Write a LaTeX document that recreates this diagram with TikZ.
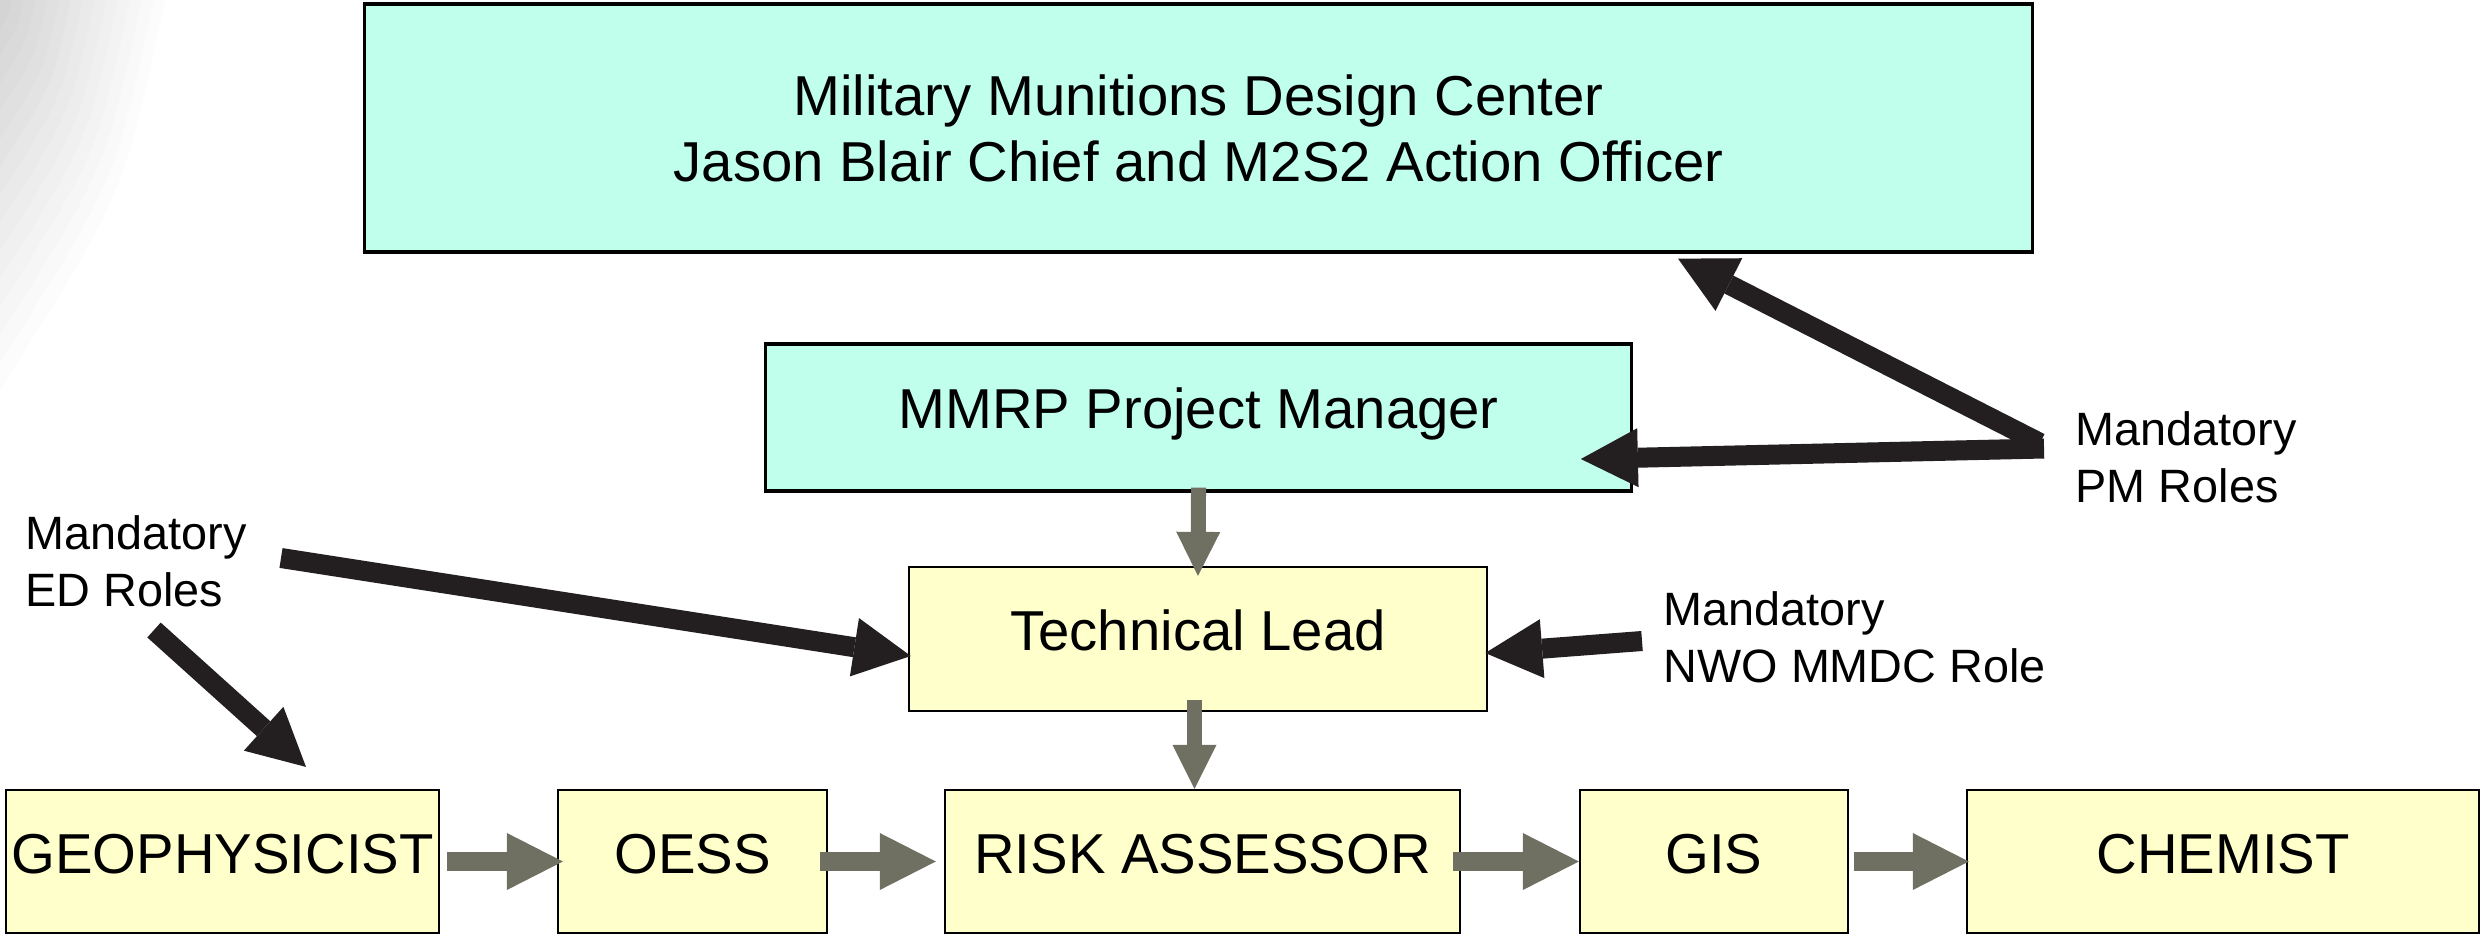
\documentclass[tikz,border=0pt]{standalone}
\usepackage{fontspec}
\setmainfont{Liberation Sans}
\usetikzlibrary{arrows.meta,calc}
\definecolor{boxcyan}{RGB}{192,255,236}
\definecolor{boxyellow}{RGB}{255,255,204}
\definecolor{arrowgray}{RGB}{112,112,98}
\definecolor{arrowblack}{RGB}{35,31,32}
\begin{document}
\begin{tikzpicture}[x=0.01cm,y=-0.01cm,
  cyanbox/.style={draw=black, line width=0.9pt, fill=boxcyan, inner sep=0pt,
    font=\fontsize{16}{18.5}\selectfont, align=center},
  yelbox/.style={draw=black, line width=0.6pt, fill=boxyellow, inner sep=0pt,
    minimum height=1.43cm, font=\fontsize{16}{18.5}\selectfont,
    text height=12pt, text depth=5.46pt},
  rolelbl/.style={inner sep=0pt, anchor=base west, align=left,
    font=\fontsize{13.3}{16.2}\selectfont},
  grayarrow/.style={draw=arrowgray, line width=0.19cm,
    -{Triangle[length=0.56cm,width=0.57cm,line width=0pt]}},
  grayvarrow/.style={draw=arrowgray, line width=0.15cm,
    -{Triangle[length=0.44cm,width=0.44cm,line width=0pt]}},
  blackarrow/.style={draw=arrowblack, line width=0.20cm,
    -{Triangle[length=0.57cm,width=0.59cm,line width=0pt]}},
]
\useasboundingbox (0,0) rectangle (2483,937);

% background corner shading (banded)
\foreach \i in {1,...,14}{
  \pgfmathsetmacro{\s}{(15-\i)/14}
  \pgfmathsetmacro{\c}{1.2*\i}
  \fill[black!\c] (0,0) -- (165*\s,0) .. controls (124*\s,195*\s) .. (0,390*\s) -- cycle;
}

% boxes
\node[cyanbox, minimum width=16.67cm, minimum height=2.48cm,
      text height=31pt, text depth=0.84pt] (top) at (1198.5,128)
  {Military Munitions Design Center\\Jason Blair Chief and M2S2 Action Officer};
\node[cyanbox, minimum width=8.65cm, minimum height=1.47cm,
      text height=12pt, text depth=5.46pt] (mmrp) at (1198.5,417.5)
  {MMRP Project Manager};
\node[yelbox, minimum width=5.78cm, minimum height=1.44cm] (tl) at (1198,639) {Technical Lead};
\node[yelbox, minimum width=4.33cm] (geo)  at (222.5,861.5) {GEOPHYSICIST};
\node[yelbox, minimum width=2.69cm] (oess) at (692.5,861.5) {OESS};
\node[yelbox, minimum width=5.15cm] (risk) at (1202.5,861.5) {RISK ASSESSOR};
\node[yelbox, minimum width=2.68cm] (gis)  at (1714,861.5) {GIS};
\node[yelbox, minimum width=5.12cm] (chem) at (2223,861.5) {CHEMIST};

% labels (anchored at the baseline of their last line)
\node[rolelbl] (edlbl)  at (25,606)   {Mandatory\\ED Roles};
\node[rolelbl] (nwolbl) at (1663,682) {Mandatory\\NWO MMDC Role};
\node[rolelbl] (pmlbl)  at (2075,502) {Mandatory\\PM Roles};

% free ends of black arrows
\coordinate (edA) at (281,558);
\coordinate (edB) at (154,630);
\coordinate (nwoA) at (1642,641);
\coordinate (pmA) at (2040,443);
\coordinate (pmB) at (2044,448.5);

% gray flow arrows
\draw[grayarrow, shorten <=0.07cm, shorten >=-0.06cm] (geo.east) -- (oess.west);
\draw[grayarrow, shorten <=-0.08cm, shorten >=0.08cm] (oess.east) -- (risk.west);
\draw[grayarrow, shorten <=-0.08cm] (risk.east) -- (gis.west);
\draw[grayarrow, shorten <=0.05cm, shorten >=-0.03cm] (gis.east) -- (chem.west);
\draw[grayvarrow, shorten <=-0.05cm, shorten >=-0.10cm] (mmrp.south) -- (tl.north);
\draw[grayvarrow, shorten <=-0.12cm] ($(tl.south)+(-3.5,0)$) -- ($(risk.north)+(-8,0)$);

% black role arrows
\draw[blackarrow] (edA) -- ($(tl.west)+(3,17)$);
\draw[blackarrow] (edB) -- ($(geo.north)+(83.5,-22)$);
\draw[blackarrow] (nwoA) -- ($(tl.east)+(-3,14)$);
\draw[blackarrow] (pmA) -- ($(top.south)+(479.5,5)$);
\draw[blackarrow] (pmB) -- ($(mmrp.east)+(-52,41.5)$);
\end{tikzpicture}
\end{document}
